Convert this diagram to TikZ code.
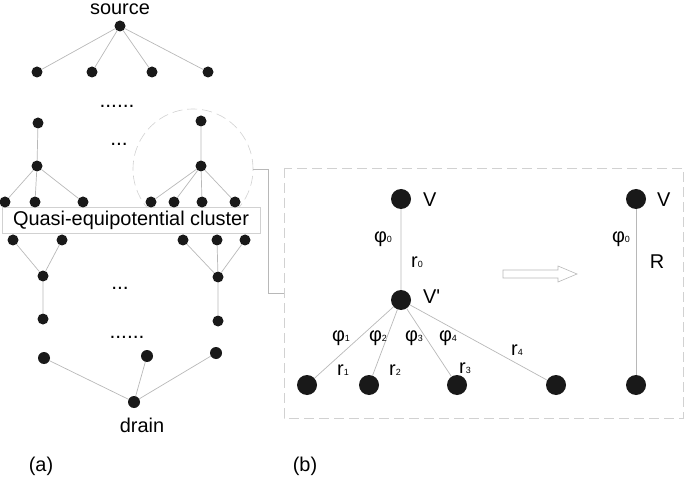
\documentclass[tikz,border=0pt]{standalone}
\usepackage{fontspec}
\setmainfont{Liberation Sans}[Ligatures=TeXOff]
\tikzset{
    dot/.style={circle, fill=black!90, inner sep=0pt, minimum size=11bp},
    bigdot/.style={circle, fill=black!90, inner sep=0pt, minimum size=20bp},
    wire/.style={draw=black!28, line width=0.7bp},
    halo/.style={draw=black!18, line width=0.6bp, dash pattern=on 10bp off 5bp},
    lbl/.style={inner sep=0pt},
    dotsep/.style={inner sep=0pt, font=\fontsize{21}{22}\selectfont},
    clusterbox/.style={draw=black!18, fill=white, line width=0.6bp, inner sep=0pt,
        minimum width=258bp, minimum height=26bp},
}
\newcommand{\idx}[1]{{\fontsize{9}{9}\selectfont #1}}

\begin{document}
\begin{tikzpicture}[x=1bp, y=-1bp, font=\fontsize{20}{22}\selectfont]
        \useasboundingbox (0,0) rectangle (685,478);
        %draw zoom circle and cluster box
        \node[halo, circle, minimum size=120bp, inner sep=0pt] (zoom) at (193,169) {};
        \node[clusterbox] (clu) at (131,220) {Quasi-equipotential cluster};
        %draw panel b frame and link
        \draw[halo] (284,168) rectangle (683,418);
        \coordinate (bw) at (284,293);
        \draw[wire] (zoom.east) -- (268,169) |- (bw);
        %panel a nodes
        \node[dot] (src) at (120,26) {};
        \node[dot] (a1) at (37,72) {};
        \node[dot] (a2) at (92,72) {};
        \node[dot] (a3) at (152,72) {};
        \node[dot] (a4) at (208,72) {};
        \node[dot] (lt) at (38,123) {};
        \node[dot] (lm) at (37,166) {};
        \node[dot] (lc1) at (5,202) {};
        \node[dot] (lc2) at (35,202) {};
        \node[dot] (lc3) at (83,202) {};
        \node[dot] (rt) at (201,121) {};
        \node[dot] (rm) at (201,166) {};
        \node[dot] (rc1) at (151,202) {};
        \node[dot] (rc2) at (174,202) {};
        \node[dot] (rc3) at (202,202) {};
        \node[dot] (rc4) at (235,202) {};
        \node[dot] (lb1) at (13,240) {};
        \node[dot] (lb2) at (62,240) {};
        \node[dot] (rb1) at (183,240) {};
        \node[dot] (rb2) at (217,240) {};
        \node[dot] (rb3) at (245,240) {};
        \node[dot] (lj) at (43,276) {};
        \node[dot] (rj) at (218,277) {};
        \node[dot] (ll) at (43,319) {};
        \node[dot] (rl) at (218,321) {};
        \node[dot, minimum size=12bp] (d1) at (44,358) {};
        \node[dot, minimum size=12bp] (d2) at (147,356) {};
        \node[dot, minimum size=12bp] (d3) at (216,353) {};
        \node[dot, minimum size=12bp] (drn) at (134,402) {};
        %panel a connectors
        \draw[wire] (src) -- (a1) (src) -- (a2) (src) -- (a3) (src) -- (a4);
        \draw[wire] (lt) -- (lm) (lm) -- (lc1) (lm) -- (lc2) (lm) -- (lc3);
        \draw[wire] (rt) -- (rm) (rm) -- (rc1) (rm) -- (rc2) (rm) -- (rc3) (rm) -- (rc4);
        \draw[wire] (lb1) -- (lj) (lb2) -- (lj) (lj) -- (ll);
        \draw[wire] (rb1) -- (rj) (rb2) -- (rj) (rb3) -- (rj) (rj) -- (rl);
        \draw[wire] (d1) -- (drn) (d2) -- (drn) (d3) -- (drn);
        %panel a texts
        \node[lbl, anchor=base] (srct) at (120,15) {source};
        \node[lbl, anchor=base] (drnt) at (142,432) {drain};
        \node[dotsep] (dt1) at (117,106) {......};
        \node[dotsep] (dt2) at (119,144) {...};
        \node[dotsep] (dt3) at (120,288) {...};
        \node[dotsep] (dt4) at (127,337) {......};
        \node[lbl, anchor=base] (capa) at (41,471) {(a)};
        \node[lbl, anchor=base] (capb) at (305,471) {(b)};
        %panel b nodes
        \node[bigdot] (v) at (401,199) {};
        \node[bigdot] (vp) at (401,300) {};
        \node[bigdot] (c1) at (307,385) {};
        \node[bigdot] (c2) at (369,385) {};
        \node[bigdot] (c3) at (457,385) {};
        \node[bigdot] (c4) at (556,385) {};
        \node[bigdot] (w) at (636,199) {};
        \node[bigdot] (wb) at (636,385) {};
        \draw[wire] (v) -- (vp) (vp) -- (c1) (vp) -- (c2) (vp) -- (c3) (vp) -- (c4);
        \draw[wire] (w) -- (wb);
        %hollow arrow
        \draw[wire, line width=0.6bp] (503,270) -- (558,270) -- (558,266) -- (577,274)
            -- (558,282) -- (558,278) -- (503,278) -- cycle;
        %panel b labels
        \node[lbl, anchor=base west] (vt) at (423,207) {V};
        \node[lbl, anchor=base west] (vpt) at (423,303) {V'};
        \node[lbl, anchor=base west] (wt) at (657,207) {V};
        \node[lbl] (p0) at (383,239) {φ\idx{0}};
        \node[lbl] (q0) at (417,262) {r\idx{0}};
        \node[lbl] (p1) at (341,338) {φ\idx{1}};
        \node[lbl] (q1) at (343,370) {r\idx{1}};
        \node[lbl] (p2) at (378,338) {φ\idx{2}};
        \node[lbl] (q2) at (395,370) {r\idx{2}};
        \node[lbl] (p3) at (414,338) {φ\idx{3}};
        \node[lbl] (q3) at (465,368) {r\idx{3}};
        \node[lbl] (p4) at (448,338) {φ\idx{4}};
        \node[lbl] (q4) at (517,350) {r\idx{4}};
        \node[lbl] (pw) at (621,239) {φ\idx{0}};
        \node[lbl] (rr) at (657,262) {R};
\end{tikzpicture}
\end{document}
